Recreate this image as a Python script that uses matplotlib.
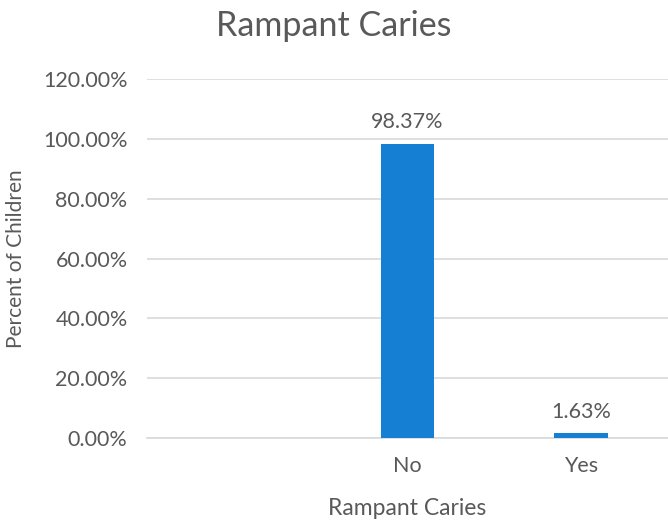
import numpy as np
import matplotlib.pyplot as plt
from matplotlib.ticker import PercentFormatter

# categories (first slot is empty in the original chart)
categories = ['', 'No', 'Yes']
percent_values = [np.nan, 98.37, 1.63]
yticks = [0, 20, 40, 60, 80, 100, 120]

plt.rcParams['font.family'] = ['Lato', 'DejaVu Sans']
text_col = '#595959'

fig = plt.figure(figsize=(6.68, 5.24), dpi=100)
ax = fig.add_axes([0.22, 0.164, 0.78, 0.685])

x = np.arange(len(categories))
bars = ax.bar(x, percent_values, width=0.31, color='#1580D3', zorder=3)

for xi, v in zip(x, percent_values):
    if np.isnan(v):
        continue
    ax.text(xi, v + 3.8, '%.2f%%' % v, ha='center', va='bottom',
            fontsize=15.5, color=text_col)

ax.set_xlim(-0.5, len(categories) - 0.5)
ax.set_ylim(0, 120)
ax.set_yticks(yticks)
ax.yaxis.set_major_formatter(PercentFormatter(decimals=2))
ax.set_xticks(x)
ax.set_xticklabels(categories)

ax.grid(axis='y', color='#D9D9D9', linewidth=1.2, zorder=0)
for s in ['top', 'right', 'left']:
    ax.spines[s].set_visible(False)
ax.spines['bottom'].set_color('#D9D9D9')
ax.spines['bottom'].set_linewidth(1.2)
ax.tick_params(axis='both', length=0, labelsize=15.5, labelcolor=text_col)
ax.tick_params(axis='x', pad=13)
ax.tick_params(axis='y', pad=14)

ax.set_xlabel('Rampant Caries', fontsize=16.5, color=text_col, labelpad=16)
ax.set_ylabel('Percent of Children', fontsize=15, color=text_col, labelpad=12)
fig.suptitle('Rampant Caries', fontsize=24.5, color=text_col, x=0.5, y=0.98)

fig.savefig('out.png', dpi=100)
